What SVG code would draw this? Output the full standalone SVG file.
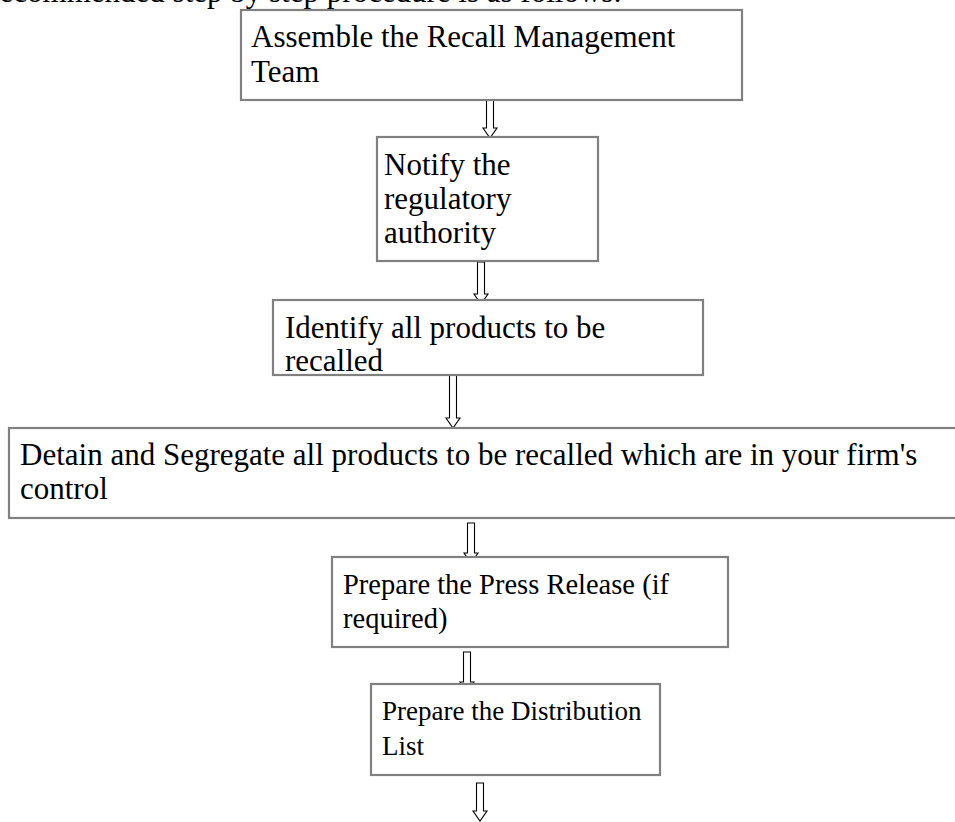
<svg xmlns="http://www.w3.org/2000/svg" width="955" height="822" viewBox="0 0 955 822">
<style>
.box{fill:#fff;stroke:#808080;stroke-width:2.2}
.t{font-family:"Liberation Serif","Times New Roman",serif;font-size:31px;fill:#000}
.s5{font-size:28.5px}
.s6{font-size:27px}
.arr{fill:#fff;stroke:#000;stroke-width:1.1;stroke-linejoin:miter}
</style>
<rect width="955" height="822" fill="#fff"/>
<text class="t" x="622" y="2" text-anchor="end">The recommended step by step procedure is as follows:</text>
<g id="connectors">
<path class="arr" d="M486.5,100 H493.5 V128 H497 L490,138 L483,128 H486.5 Z"/>
<path class="arr" d="M477.5,262 H484.5 V294 H488 L481,304 L474,294 H477.5 Z"/>
<path class="arr" d="M449.5,375 H456.5 V418 H460 L453,428 L446,418 H449.5 Z"/>
<path class="arr" d="M467.5,523 H474.5 V553 H478 L471,563 L464,553 H467.5 Z"/>
<path class="arr" d="M463.5,652 H470.5 V682 H474 L467,692 L460,682 H463.5 Z"/>
<path class="arr" d="M476.5,783 H483.5 V811 H487 L480,821 L473,811 H476.5 Z"/>
</g>
<g id="n1">
<rect class="box" x="241" y="10" width="501" height="90"/>
<text class="t" x="251" y="47">Assemble the Recall Management</text>
<text class="t" x="251" y="82">Team</text>
</g>
<g id="n2">
<rect class="box" x="377" y="137" width="221" height="124"/>
<text class="t" x="384" y="175">Notify the</text>
<text class="t" x="384" y="209">regulatory</text>
<text class="t" x="384" y="243">authority</text>
</g>
<g id="n3">
<rect class="box" x="273" y="300" width="430" height="75"/>
<text class="t" x="285" y="338">Identify all products to be</text>
<text class="t" x="285" y="371">recalled</text>
</g>
<g id="n4">
<rect class="box" x="9" y="428" width="960" height="90"/>
<text class="t" x="20" y="465">Detain and Segregate all products to be recalled which are in your firm's</text>
<text class="t" x="20" y="499">control</text>
</g>
<g id="n5">
<rect class="box" x="332" y="557" width="396" height="90"/>
<text class="t s5" x="343" y="594">Prepare the Press Release (if</text>
<text class="t s5" x="343" y="628">required)</text>
</g>
<g id="n6">
<rect class="box" x="371" y="684" width="289" height="91"/>
<text class="t s6" x="382" y="720">Prepare the Distribution</text>
<text class="t s6" x="382" y="755">List</text>
</g>
</svg>
